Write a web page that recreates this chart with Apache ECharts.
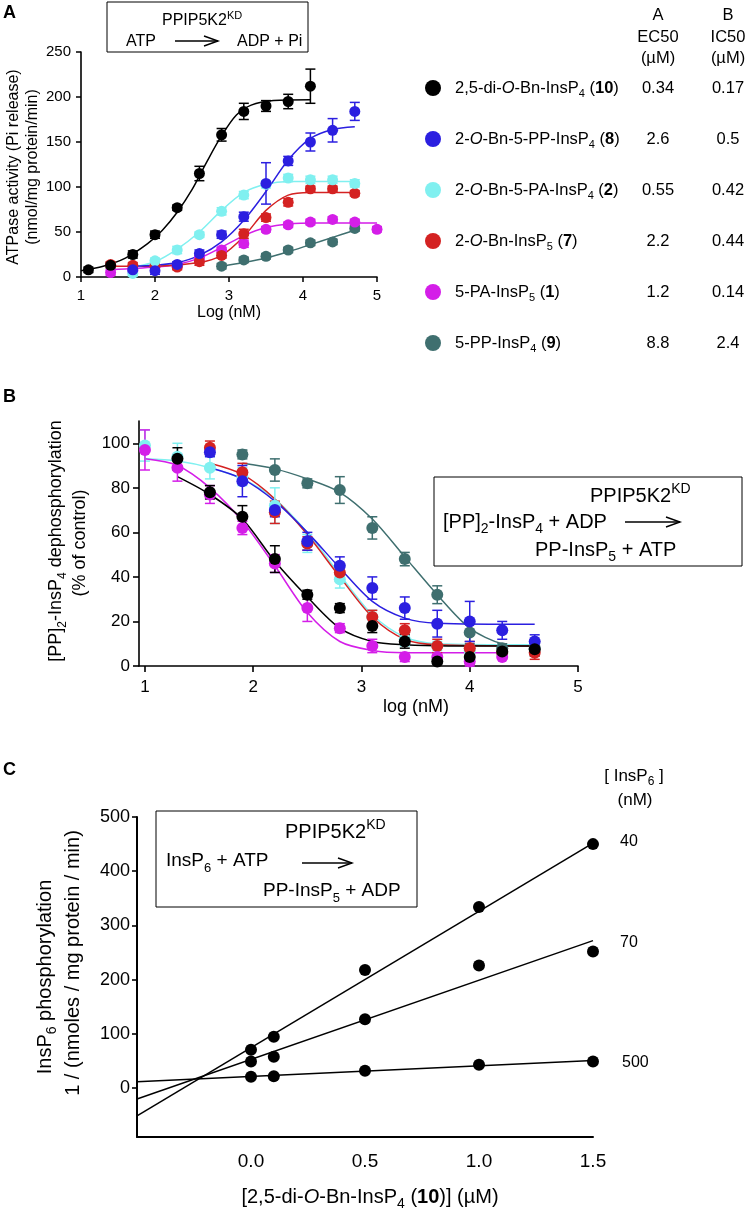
<!DOCTYPE html>
<html><head><meta charset="utf-8">
<script src="https://cdn.jsdelivr.net/npm/echarts@6/dist/echarts.min.js"></script>
<style>html,body{margin:0;padding:0;background:#fff}#c{width:747px;height:1211px}</style>
</head><body><div id="c"></div>
<script>
// ---------------- DATA ----------------
// Panel A : ATPase activity vs log(nM)
const A_X_BLACK = [1.1,1.4,1.7,2.0,2.3,2.6,2.9,3.2,3.5,3.8,4.1];
const A_Y_BLACK = [8,13,25,47,77,115,158,184,190,195,212];
const A_E_BLACK = [3,3,4,4,3,8,7,9,6,8,19];
const A_FX_BLACK = [1.0,1.3,1.6,1.9,2.1,2.3,2.5,2.7,2.9,3.1,3.3,3.6,4.1];
const A_FY_BLACK = [7,12,21,37,52,72,97,128,157,180,191,196,197];

const A_X_BLUE = [1.7,2.0,2.3,2.6,2.9,3.2,3.5,3.8,4.1,4.4,4.7];
const A_Y_BLUE = [8,7,14,26,47,67,104,129,150,163,184];
const A_E_BLUE = [3,4,3,4,4,5,23,5,10,13,10];
const A_FX_BLUE = [1.7,2.0,2.3,2.6,2.9,3.2,3.5,3.8,4.1,4.4,4.7];
const A_FY_BLUE = [12,13,16,24,39,63,95,130,154,164,167];

const A_X_CYAN = [1.7,2.0,2.3,2.6,2.9,3.2,3.5,3.8,4.1,4.4,4.7];
const A_Y_CYAN = [4,18,30,47,73,91,103,110,108,108,104];
const A_E_CYAN = [3,3,4,3,4,4,4,4,4,4,4];
const A_FX_CYAN = [1.7,2.0,2.3,2.6,2.9,3.2,3.5,3.8,4.7];
const A_FY_CYAN = [11,17,31,50,74,94,103,106,106];

const A_X_RED = [1.4,1.7,2.0,2.3,2.6,2.9,3.2,3.5,3.8,4.1,4.4,4.7];
const A_Y_RED = [14,13,12,11,17,24,48,66,83,98,98,93];
const A_E_RED = [3,3,3,3,4,3,5,4,4,3,3,3];
const A_FX_RED = [1.4,2.0,2.6,2.9,3.2,3.5,3.8,4.1,4.7];
const A_FY_RED = [12,12,16,24,45,74,91,94,94];

const A_X_MAG = [1.4,1.7,2.0,2.3,2.6,2.9,3.2,3.5,3.8,4.1,4.4,4.7,5.0];
const A_Y_MAG = [5,7,12,12,21,30,37,53,58,61,64,61,53];
const A_E_MAG = [3,3,3,3,3,3,4,3,3,3,3,3,3];
const A_FX_MAG = [1.4,2.0,2.3,2.6,2.9,3.2,3.5,3.8,4.2,5.0];
const A_FY_MAG = [8,11,14,21,33,46,55,59,60,60];

const A_X_SLATE = [2.9,3.2,3.5,3.8,4.1,4.4,4.7];
const A_Y_SLATE = [12,19,23,30,38,39,54];
const A_E_SLATE = [3,3,3,3,3,3,3];
const A_FX_SLATE = [2.9,3.2,3.5,3.8,4.1,4.4,4.7];
const A_FY_SLATE = [12,16,21,28,36,44,52];

// Panel B : dephosphorylation (% of control) vs log(nM)
const B_X_BLACK = [1.3,1.6,1.9,2.2,2.5,2.8,3.1,3.4,3.7,4.0,4.3,4.6];
const B_Y_BLACK = [93,78,67,48,32,26,18,11,2,4,6.5,7.5];
const B_E_BLACK = [5,3,5,6,2,2,3,3,1,3,2,3];
const B_FX_BLACK = [1.3,1.6,1.9,2.2,2.5,2.8,3.1,3.4,3.8,4.65];
const B_FY_BLACK = [85,77,66,47,31,17,11,9.5,9,9];

const B_X_MAG = [1.0,1.3,1.6,1.9,2.2,2.5,2.8,3.1,3.4,3.7,4.0,4.3];
const B_Y_MAG = [97,89,77,62,46,26,17,9,4,4,2,4];
const B_E_MAG = [9,6,4,3,4,6,2,3,2,1,2,1];
const B_FX_MAG = [1.0,1.3,1.6,1.9,2.2,2.5,2.8,3.1,3.4,4.3];
const B_FY_MAG = [93,90,80,65,45,24,11,7,6,6];

const B_X_CYAN = [1.0,1.3,1.6,1.9,2.2,2.5,2.8,3.1,3.4,3.7,4.0,4.3];
const B_Y_CYAN = [99,94,89,85,72,55,39,22,12,9,7,6];
const B_E_CYAN = [7,6,5,4,8,4,4,3,3,2,2,2];
const B_FX_CYAN = [1.0,1.3,1.6,1.9,2.2,2.5,2.8,3.1,3.4,3.7,4.6];
const B_FY_CYAN = [93,92,89,84,75,60,41,23,13,10,9.5];

const B_X_RED = [1.6,1.9,2.2,2.5,2.8,3.1,3.4,3.7,4.0,4.3,4.6];
const B_Y_RED = [98,87,69,55,42,22,16,9,8,6,6];
const B_E_RED = [3,4,5,3,4,3,3,3,3,2,3];
const B_FX_RED = [1.6,1.9,2.2,2.5,2.8,3.1,3.4,3.7,4.6];
const B_FY_RED = [91,86,75,59,40,22,12,9.5,9];

const B_X_BLUE = [1.6,1.9,2.2,2.5,2.8,3.1,3.4,3.7,4.0,4.3,4.6];
const B_Y_BLUE = [96,83,70,56,45,35,26,19,20,16,11];
const B_E_BLUE = [2,7,3,4,4,5,5,6,9,4,3];
const B_FX_BLUE = [1.6,1.9,2.2,2.5,2.8,3.1,3.4,3.7,4.6];
const B_FY_BLUE = [89,84,74,60,44,29,21.5,19.2,18.7];

const B_X_SLATE = [1.9,2.2,2.5,2.8,3.1,3.4,3.7,4.0,4.3,4.6];
const B_Y_SLATE = [95,88,82,79,62,48,32,15,8,8];
const B_E_SLATE = [2,5,2,6,5,3,4,5,2,2];
const B_FX_SLATE = [1.9,2.2,2.5,2.8,3.1,3.4,3.7,4.0,4.3,4.6];
const B_FY_SLATE = [91,88.5,84,78,66,49,32,17,10,9];

// Panel C : 1/v vs [inhibitor]
const C_X = [0, 0.1, 0.5, 1.0, 1.5];
const C_Y_40 = [71, 95, 218, 334, 450];
const C_Y_70 = [49, 58, 127, 226, 252];
const C_Y_500 = [21, 22, 32, 43, 49];
const C_FIT_X = [-0.5, 1.5];
const C_FIT_40 = [-51, 452];
const C_FIT_70 = [-20, 272];
const C_FIT_500 = [12, 51];
const C_SERIES_LABELS = ['40', '70', '500'];

// Legend / table
const COMPOUNDS = [
  '{n|2,5-di-}{i|O}{n|-Bn-InsP}{s|4}{n| (}{b|10}{n|)}',
  '{n|2-}{i|O}{n|-Bn-5-PP-InsP}{s|4}{n| (}{b|8}{n|)}',
  '{n|2-}{i|O}{n|-Bn-5-PA-InsP}{s|4}{n| (}{b|2}{n|)}',
  '{n|2-}{i|O}{n|-Bn-InsP}{s|5}{n| (}{b|7}{n|)}',
  '{n|5-PA-InsP}{s|5}{n| (}{b|1}{n|)}',
  '{n|5-PP-InsP}{s|4}{n| (}{b|9}{n|)}'
];
const EC50 = ['0.34','2.6','0.55','2.2','1.2','8.8'];
const IC50 = ['0.17','0.5','0.42','0.44','0.14','2.4'];
const A_X_TICKS = [1,2,3,4,5];
const B_X_TICKS = [1,2,3,4,5];
const B_Y_TICKS = [0,20,40,60,80,100];
const C_X_TICKS = [0,0.5,1,1.5];
const C_Y_TICKS = [0,100,200,300,400,500];

// ---------------- STYLE ----------------
const FONT = "'Liberation Sans', Arial, Helvetica, sans-serif";
const COL = {black:'#000000', blue:'#2b1fe0', cyan:'#80f0f0', red:'#d42222', mag:'#d41ee8', slate:'#3f6f6f'};
const LEG_COLORS = [COL.black, COL.blue, COL.cyan, COL.red, COL.mag, COL.slate];

function rich(size){
  const base = {fontFamily: FONT, fontSize: size, lineHeight: Math.round(size*1.4), verticalAlign:'middle', color:'#000'};
  return {
    n: base,
    i: Object.assign({}, base, {fontStyle:'italic'}),
    b: Object.assign({}, base, {fontWeight:'bold'}),
    s: {fontFamily: FONT, fontSize: Math.round(size*0.68), lineHeight: Math.round(size*0.8), verticalAlign:'bottom', color:'#000'},
    p: {fontFamily: FONT, fontSize: Math.round(size*0.68), lineHeight: Math.round(size*0.8), verticalAlign:'top', color:'#000'}
  };
}
function txt(x, y, text, o){
  o = o || {};
  const size = o.size || 16;
  return {type:'text', x:x, y:y, rotation:o.rot||0, z:10,
    style:{text:text, fill:'#000', font:(o.weight||'normal')+' '+size+'px '+FONT,
      textAlign:o.align||'left', textVerticalAlign:o.va||'middle', rich: rich(size)}};
}
function rect(x,y,w,h){
  return {type:'rect', shape:{x:x,y:y,width:w,height:h}, z:9, style:{fill:'#fff', stroke:'#000', lineWidth:1}};
}
function arrow(x1,x2,y){
  return [
    {type:'line', z:11, shape:{x1:x1,y1:y,x2:x2,y2:y}, style:{stroke:'#000', lineWidth:1.4}},
    {type:'polyline', z:11, shape:{points:[[x2-14,y-5],[x2,y],[x2-14,y+5]]}, style:{stroke:'#000', lineWidth:1.4, fill:null}}
  ];
}

function errRender(params, api){
  const x = api.value(0), y = api.value(1), e = api.value(2);
  const lo = api.coord([x, y-e]), hi = api.coord([x, y+e]);
  const w = 5;
  const st = {stroke: api.visual('color'), lineWidth: 1.5};
  return {type:'group', children:[
    {type:'line', shape:{x1:lo[0],y1:lo[1],x2:hi[0],y2:hi[1]}, style:st},
    {type:'line', shape:{x1:lo[0]-w,y1:lo[1],x2:lo[0]+w,y2:lo[1]}, style:st},
    {type:'line', shape:{x1:hi[0]-w,y1:hi[1],x2:hi[0]+w,y2:hi[1]}, style:st}
  ]};
}

const series = [];
function addSet(gi, xs, ys, es, fx, fy, color, size){
  series.push({type:'line', xAxisIndex:gi, yAxisIndex:gi, data: fx.map((x,i)=>[x,fy[i]]),
    smooth:0.3, showSymbol:false, symbol:'none', lineStyle:{color:color, width:1.5}, z:2, silent:true});
  series.push({type:'custom', xAxisIndex:gi, yAxisIndex:gi, data: xs.map((x,i)=>[x,ys[i],es[i]]),
    renderItem: errRender, itemStyle:{color:color}, encode:{x:0,y:1}, z:3, silent:true});
  series.push({type:'scatter', xAxisIndex:gi, yAxisIndex:gi, data: xs.map((x,i)=>[x,ys[i]]),
    symbol:'circle', symbolSize:size, itemStyle:{color:color, opacity:1}, z:4, silent:true});
}
// Panel A
addSet(0, A_X_SLATE, A_Y_SLATE, A_E_SLATE, A_FX_SLATE, A_FY_SLATE, COL.slate, 11);
addSet(0, A_X_MAG, A_Y_MAG, A_E_MAG, A_FX_MAG, A_FY_MAG, COL.mag, 11);
addSet(0, A_X_RED, A_Y_RED, A_E_RED, A_FX_RED, A_FY_RED, COL.red, 11);
addSet(0, A_X_CYAN, A_Y_CYAN, A_E_CYAN, A_FX_CYAN, A_FY_CYAN, COL.cyan, 11);
addSet(0, A_X_BLUE, A_Y_BLUE, A_E_BLUE, A_FX_BLUE, A_FY_BLUE, COL.blue, 11);
addSet(0, A_X_BLACK, A_Y_BLACK, A_E_BLACK, A_FX_BLACK, A_FY_BLACK, COL.black, 11);
// Panel B
addSet(1, B_X_SLATE, B_Y_SLATE, B_E_SLATE, B_FX_SLATE, B_FY_SLATE, COL.slate, 12);
addSet(1, B_X_CYAN, B_Y_CYAN, B_E_CYAN, B_FX_CYAN, B_FY_CYAN, COL.cyan, 12);
addSet(1, B_X_RED, B_Y_RED, B_E_RED, B_FX_RED, B_FY_RED, COL.red, 12);
addSet(1, B_X_BLUE, B_Y_BLUE, B_E_BLUE, B_FX_BLUE, B_FY_BLUE, COL.blue, 12);
addSet(1, B_X_MAG, B_Y_MAG, B_E_MAG, B_FX_MAG, B_FY_MAG, COL.mag, 12);
addSet(1, B_X_BLACK, B_Y_BLACK, B_E_BLACK, B_FX_BLACK, B_FY_BLACK, COL.black, 12);
// Panel C
[[C_FIT_40, C_Y_40],[C_FIT_70, C_Y_70],[C_FIT_500, C_Y_500]].forEach(function(pair){
  series.push({type:'line', xAxisIndex:2, yAxisIndex:2, data: C_FIT_X.map((x,i)=>[x,pair[0][i]]),
    showSymbol:false, symbol:'none', lineStyle:{color:'#000', width:1.5}, z:2, silent:true});
  series.push({type:'scatter', xAxisIndex:2, yAxisIndex:2, data: C_X.map((x,i)=>[x,pair[1][i]]),
    symbol:'circle', symbolSize:12, itemStyle:{color:'#000', opacity:1}, z:4, silent:true});
});

function xAx(gi, o){
  return Object.assign({type:'value', gridIndex:gi,
    axisLine:{show:true, onZero:false, lineStyle:{color:'#000', width:1.6}},
    axisTick:{show:true, inside:false, length:5, lineStyle:{color:'#000', width:1.5}},
    splitLine:{show:false}}, o);
}
const lbl = (size, margin, extra) => Object.assign({color:'#000', fontFamily:FONT, fontSize:size, margin:margin}, extra||{});

const option = {
  animation:false,
  backgroundColor:'#ffffff',
  grid:[
    {left:81, top:52, width:296, height:225},
    {left:139, top:421, width:439, height:245},
    {left:137, top:817, width:456, height:320}
  ],
  xAxis:[
    xAx(0, {min:1, max:5, interval:1, axisLabel:lbl(15, 11, {customValues:A_X_TICKS}), axisTick:{show:true,length:5,lineStyle:{color:'#000',width:1.5},customValues:A_X_TICKS}}),
    xAx(1, {min:0.945, max:5, axisLabel:lbl(17, 13, {customValues:B_X_TICKS}), axisTick:{show:true,length:6,lineStyle:{color:'#000',width:1.6},customValues:B_X_TICKS}}),
    xAx(2, {min:-0.5, max:1.5, axisLabel:lbl(19, 15, {customValues:C_X_TICKS, formatter:function(v){return Number(v).toFixed(1);}}), axisTick:{show:false}, axisLine:{show:true,onZero:false,lineStyle:{color:'#000',width:2}}})
  ],
  yAxis:[
    xAx(0, {min:0, max:250, interval:50, axisLabel:lbl(15, 10)}),
    xAx(1, {min:0, max:110, axisLabel:lbl(17, 9, {customValues:B_Y_TICKS}), axisTick:{show:true,length:6,lineStyle:{color:'#000',width:1.6},customValues:B_Y_TICKS}}),
    xAx(2, {min:-90, max:500, axisLabel:lbl(18, 7, {customValues:C_Y_TICKS}), axisTick:{show:true,length:5,lineStyle:{color:'#000',width:1.6},customValues:C_Y_TICKS}, axisLine:{show:true,onZero:false,lineStyle:{color:'#000',width:2}}})
  ],
  series: series,
  graphic: []
};

const G = option.graphic;
// Panel labels
G.push(txt(3, 13, 'A', {size:18, weight:'bold'}));
G.push(txt(3, 397, 'B', {size:18, weight:'bold'}));
G.push(txt(3, 770, 'C', {size:18, weight:'bold'}));

// Panel A box
G.push(rect(107, 2, 201, 50));
G.push(txt(162, 21, '{n|PPIP5K2}{p|KD}', {size:16}));
G.push(txt(126, 42, 'ATP', {size:16}));
G.push.apply(G, arrow(175, 218, 41));
G.push(txt(237, 42, 'ADP + Pi', {size:16}));
// Panel A axis titles
G.push(txt(14, 167, 'ATPase activity (Pi release)', {size:16, rot:Math.PI/2, align:'center'}));
G.push(txt(33, 167, '(nmol/mg protein/min)', {size:16, rot:Math.PI/2, align:'center'}));
G.push(txt(229, 313, 'Log (nM)', {size:16, align:'center'}));

// Legend table
G.push(txt(658, 15, 'A', {size:16.5, align:'center'}));
G.push(txt(658, 37, 'EC50', {size:16.5, align:'center'}));
G.push(txt(658, 58, '(µM)', {size:16.5, align:'center'}));
G.push(txt(728, 15, 'B', {size:16.5, align:'center'}));
G.push(txt(728, 37, 'IC50', {size:16.5, align:'center'}));
G.push(txt(728, 58, '(µM)', {size:16.5, align:'center'}));
const ROW0 = 88, ROWSTEP = 51;
COMPOUNDS.forEach(function(c, i){
  const y = ROW0 + i*ROWSTEP;
  G.push({type:'circle', shape:{cx:433, cy:y, r:8}, z:10, style:{fill:LEG_COLORS[i]}});
  G.push(txt(455, y, c, {size:16.5}));
  G.push(txt(658, y, EC50[i], {size:16.5, align:'center'}));
  G.push(txt(728, y, IC50[i], {size:16.5, align:'center'}));
});

// Panel B
G.push(txt(56, 541, '{n|[PP]}{s|2}{n|-InsP}{s|4}{n| dephosphorylation}', {size:18, rot:Math.PI/2, align:'center'}));
G.push(txt(80, 543, '(% of control)', {size:18, rot:Math.PI/2, align:'center'}));
G.push(txt(416, 707, 'log (nM)', {size:18, align:'center'}));
G.push(rect(434, 477, 308, 89));
G.push(txt(590, 496, '{n|PPIP5K2}{p|KD}', {size:20}));
G.push(txt(443, 522, '{n|[PP]}{s|2}{n|-InsP}{s|4}{n| + ADP}', {size:20}));
G.push.apply(G, arrow(625, 680, 522));
G.push(txt(535, 550, '{n|PP-InsP}{s|5}{n| + ATP}', {size:20}));

// Panel C
G.push(rect(156, 811, 261, 96));
G.push(txt(285, 832, '{n|PPIP5K2}{p|KD}', {size:20}));
G.push(txt(166, 861, '{n|InsP}{s|6}{n| + ATP}', {size:19}));
G.push.apply(G, arrow(302, 352, 863));
G.push(txt(263, 891, '{n|PP-InsP}{s|5}{n| + ADP}', {size:19}));
G.push(txt(634, 776, '{n|[ InsP}{s|6}{n| ]}', {size:17, align:'center'}));
G.push(txt(635, 800, '(nM)', {size:17, align:'center'}));
G.push(txt(620, 842, C_SERIES_LABELS[0], {size:16}));
G.push(txt(620, 943, C_SERIES_LABELS[1], {size:16}));
G.push(txt(622, 1063, C_SERIES_LABELS[2], {size:16}));
G.push(txt(45, 977, '{n|InsP}{s|6}{n| phosphorylation}', {size:20, rot:Math.PI/2, align:'center'}));
G.push(txt(73, 963, '1 / (nmoles / mg protein / min)', {size:20, rot:Math.PI/2, align:'center'}));
G.push(txt(370, 1197, '{n|[2,5-di-}{i|O}{n|-Bn-InsP}{s|4}{n| (}{b|10}{n|)] (µM)}', {size:20, align:'center'}));

const chart = echarts.init(document.getElementById('c'), null, {renderer:'canvas', width:747, height:1211});
chart.setOption(option);
</script>
</body></html>
